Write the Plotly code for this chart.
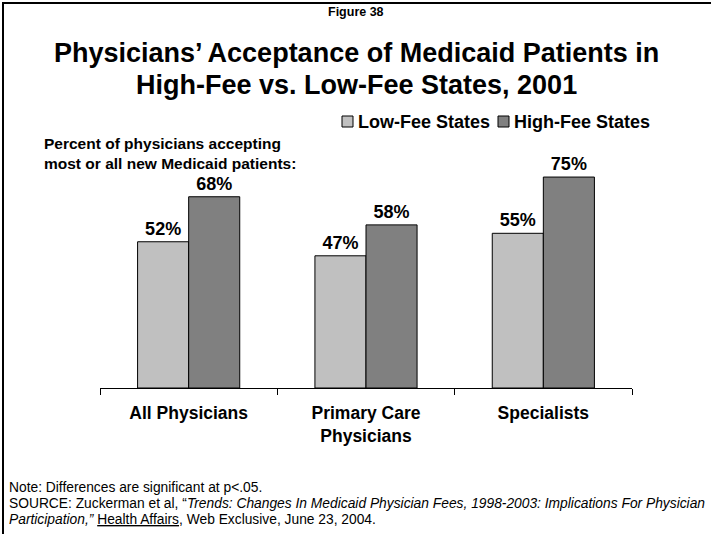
import plotly.graph_objects as go

# ---- data -------------------------------------------------------------
categories = ["All Physicians", "Primary Care<br>Physicians", "Specialists"]
series_names = ["Low-Fee States", "High-Fee States"]
low_fee = [52, 47, 55]
high_fee = [68, 58, 75]
series_values = [low_fee, high_fee]
series_colors = ["#C0C0C0", "#808080"]

# ---- page geometry (pixels) ------------------------------------------
FIG_W, FIG_H = 711, 534
PLOT_L, PLOT_R = 100, 632
PLOT_T, PLOT_B = 163, 388
PW, PH = PLOT_R - PLOT_L, PLOT_B - PLOT_T


def px_x(px):
    return (px - PLOT_L) / PW


def px_y(py):
    return (PLOT_B - py) / PH


SANS = "Liberation Sans, Arial, sans-serif"

fig = go.Figure()
for name, vals, col in zip(series_names, series_values, series_colors):
    fig.add_trace(go.Bar(
        x=categories, y=vals, name=name,
        marker=dict(color=col, line=dict(color="black", width=1)),
        text=[f"{v}%" for v in vals], textposition="outside",
        textfont=dict(family=SANS, size=18, color="black", weight="bold"),
        cliponaxis=False, showlegend=False,
    ))

annotations = [
    dict(text="<b>Figure 38</b>", x=px_x(356), y=px_y(12), font=dict(family=SANS, size=12.5)),
    dict(text="<b>Physicians’ Acceptance of Medicaid Patients in</b>",
         x=px_x(356), y=px_y(53), font=dict(family=SANS, size=27)),
    dict(text="<b>High-Fee vs. Low-Fee States, 2001</b>",
         x=px_x(356), y=px_y(85), font=dict(family=SANS, size=27)),
    dict(text="<b>Percent of physicians accepting<br>most or all new Medicaid patients:</b>",
         x=px_x(42), y=px_y(153), xanchor="left", align="left",
         font=dict(family=SANS, size=15.5)),
    dict(text="Note: Differences are significant at p<.05.", x=px_x(7), y=px_y(487),
         xanchor="left", font=dict(family=SANS, size=13.8)),
    dict(text="SOURCE: Zuckerman et al, “<i>Trends: Changes In Medicaid Physician Fees, 1998-2003: "
              "Implications For Physician</i>", x=px_x(7), y=px_y(503),
         xanchor="left", font=dict(family=SANS, size=13.8)),
    dict(text="<i>Participation,”</i> <u>Health Affairs</u>, Web Exclusive, June 23, 2004.",
         x=px_x(7), y=px_y(519), xanchor="left", font=dict(family=SANS, size=13.8)),
]

# legend: swatch + label for each series
legend_x = [342, 498]
shapes = []
for lx, name, col in zip(legend_x, series_names, series_colors):
    shapes.append(dict(type="rect", xref="paper", yref="paper",
                       x0=px_x(lx), x1=px_x(lx + 11), y0=px_y(127), y1=px_y(116),
                       fillcolor=col, line=dict(color="black", width=1)))
    annotations.append(dict(text=f"<b>{name}</b>", x=px_x(lx + 14), y=px_y(121.5),
                            xanchor="left", font=dict(family=SANS, size=18)))

# frame lines along top and left edges
shapes.append(dict(type="line", xref="paper", yref="paper", x0=px_x(2), x1=px_x(712),
                   y0=px_y(3), y1=px_y(3), line=dict(color="black", width=2)))
shapes.append(dict(type="line", xref="paper", yref="paper", x0=px_x(3), x1=px_x(3),
                   y0=px_y(2), y1=px_y(535), line=dict(color="black", width=2)))

for a in annotations:
    a.setdefault("xref", "paper")
    a.setdefault("yref", "paper")
    a.setdefault("showarrow", False)
    a.setdefault("xanchor", "center")
    a.setdefault("yanchor", "middle")
    a["font"].setdefault("color", "black")

fig.update_layout(
    width=FIG_W, height=FIG_H,
    margin=dict(l=PLOT_L, r=FIG_W - PLOT_R, t=PLOT_T, b=FIG_H - PLOT_B, pad=0),
    paper_bgcolor="white", plot_bgcolor="white",
    barmode="group", bargap=0.424, bargroupgap=0,
    annotations=annotations, shapes=shapes,
    xaxis=dict(showline=True, linecolor="black", linewidth=1, ticks="outside",
               tickson="boundaries", ticklen=6, tickcolor="black",
               ticklabelstandoff=9,
               tickfont=dict(family=SANS, size=17.5, color="black", weight="bold"),
               showgrid=False, range=[-0.5, 2.5]),
    yaxis=dict(range=[0, 80], visible=False, showgrid=False, zeroline=False),
)

fig.write_html("out.html")
